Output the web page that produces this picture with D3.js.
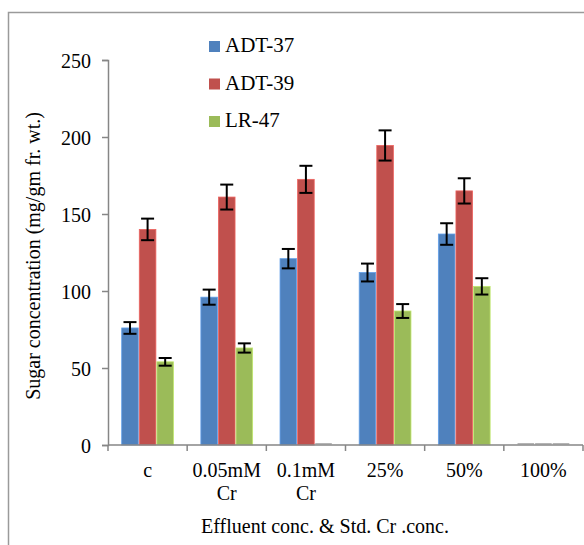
<!DOCTYPE html>
<html>
<head>
<meta charset="utf-8">
<script src="https://cdn.jsdelivr.net/npm/d3@7"></script>
<style>
  body { margin: 0; background: #fff; }
  svg text { font-family: "Liberation Serif", "Times New Roman", serif; fill: #000; }
</style>
</head>
<body>
<svg width="584" height="545"></svg>
<script>
const categories = ['c', '0.05mM Cr', '0.1mM Cr', '25%', '50%', '100%'];
const categoryLines = [['c'], ['0.05mM', 'Cr'], ['0.1mM', 'Cr'], ['25%'], ['50%'], ['100%']];
const seriesNames = ['ADT-37', 'ADT-39', 'LR-47'];
const adt37 = [76, 96, 121, 112, 137, 0];
const adt39 = [140, 161, 172.5, 194.5, 165, 0];
const lr47 = [54, 63, 0, 87, 103, 0];
const err37 = [3.8, 4.9, 6.3, 5.8, 7, 0];
const err39 = [7, 8.1, 8.8, 9.8, 8.2, 0];
const err47 = [2.5, 3, 0, 4.5, 5.3, 0];
const yTicks = [0, 50, 100, 150, 200, 250];

const colors = ['#4F81BD', '#C0504D', '#9BBB59'];
const values = [adt37, adt39, lr47];
const errors = [err37, err39, err47];

const svg = d3.select('svg');
const axisColor = '#868686';

// outer chart frame (runs off right and bottom edges)
svg.append('rect')
  .attr('x', 8.5).attr('y', 12.5)
  .attr('width', 600).attr('height', 600)
  .attr('fill', 'none')
  .attr('stroke', '#9a9a9a')
  .attr('stroke-width', 1.5);

const plot = { left: 108, right: 583, top: 60, bottom: 445 };

const x0 = d3.scaleBand()
  .domain(categories)
  .range([plot.left, plot.right])
  .padding(0);

const x1 = d3.scaleBand()
  .domain(seriesNames)
  .range([0, x0.bandwidth()])
  .paddingInner(0)
  .paddingOuter(0.75);

const y = d3.scaleLinear()
  .domain([0, 250])
  .range([plot.bottom, plot.top]);

const rows = [];
categories.forEach((c, i) => {
  seriesNames.forEach((s, j) => {
    rows.push({ cat: c, series: s, j, value: values[j][i], err: errors[j][i] });
  });
});

// bars (zero values show as a faint grey sliver, like the original)
svg.append('g').selectAll('rect')
  .data(rows)
  .join('rect')
    .attr('x', d => x0(d.cat) + x1(d.series) + 0.5)
    .attr('y', d => d.value === 0 ? y(0) - 2 : y(d.value))
    .attr('width', x1.bandwidth() - 1)
    .attr('height', d => d.value === 0 ? 1.5 : y(0) - y(d.value))
    .attr('fill', d => d.value === 0 ? '#b4b4b4' : colors[d.j])
    .attr('stroke', d => d.value === 0 ? 'none' : d3.color(colors[d.j]).brighter(0.6))
    .attr('stroke-width', 0.8);

// error bars
const eb = svg.append('g')
  .attr('stroke', '#000')
  .attr('stroke-width', 2)
  .selectAll('g')
  .data(rows.filter(d => d.err > 0))
  .join('g')
    .attr('transform', d => `translate(${x0(d.cat) + x1(d.series) + x1.bandwidth() / 2},0)`);

eb.append('line')
  .attr('y1', d => y(d.value + d.err))
  .attr('y2', d => y(d.value - d.err));
eb.append('line')
  .attr('x1', -6.5).attr('x2', 6.5)
  .attr('y1', d => y(d.value + d.err))
  .attr('y2', d => y(d.value + d.err));
eb.append('line')
  .attr('x1', -6.5).attr('x2', 6.5)
  .attr('y1', d => y(d.value - d.err))
  .attr('y2', d => y(d.value - d.err));

// y axis
const yAxis = d3.axisLeft(y)
  .tickValues(yTicks)
  .tickSize(6)
  .tickPadding(11);

const yAxisG = svg.append('g')
  .attr('transform', `translate(${plot.left},0)`)
  .call(yAxis);
yAxisG.select('.domain').attr('stroke', axisColor).attr('stroke-width', 1.5);
yAxisG.selectAll('.tick line').attr('stroke', axisColor).attr('stroke-width', 1.5);
yAxisG.selectAll('.tick text')
  .attr('font-size', 20)
  .attr('dy', '0.35em');

// x axis: ticks on category boundaries
const xAxisG = svg.append('g')
  .attr('transform', `translate(0,${plot.bottom})`);
xAxisG.append('line')
  .attr('x1', plot.left).attr('x2', plot.right)
  .attr('stroke', axisColor).attr('stroke-width', 1.5);
const boundaries = categories.map(c => x0(c)).concat([x0.range()[1]]);
xAxisG.selectAll('.xtick')
  .data(boundaries)
  .join('line')
    .attr('class', 'xtick')
    .attr('x1', d => d).attr('x2', d => d)
    .attr('y1', 0).attr('y2', 6)
    .attr('stroke', axisColor).attr('stroke-width', 1.5);

xAxisG.selectAll('.xlabel')
  .data(categories)
  .join('text')
    .attr('class', 'xlabel')
    .attr('text-anchor', 'middle')
    .attr('font-size', 20)
    .attr('x', d => x0(d) + x0.bandwidth() / 2)
    .attr('y', 32)
    .each(function (d, i) {
      d3.select(this).selectAll('tspan')
        .data(categoryLines[i])
        .join('tspan')
          .attr('x', x0(d) + x0.bandwidth() / 2)
          .attr('dy', (t, k) => k === 0 ? 0 : 23)
          .text(t => t);
    });

// axis titles
svg.append('text')
  .attr('x', 325)
  .attr('y', 533)
  .attr('text-anchor', 'middle')
  .attr('font-size', 20)
  .text('Effluent conc. & Std. Cr .conc.');

svg.append('text')
  .attr('transform', 'translate(40,256) rotate(-90)')
  .attr('text-anchor', 'middle')
  .attr('font-size', 20)
  .text('Sugar concentration (mg/gm fr. wt.)');

// legend
const legend = svg.append('g')
  .selectAll('g')
  .data(seriesNames)
  .join('g')
    .attr('transform', (d, i) => `translate(209,${41 + i * 37.5})`);
legend.append('rect')
  .attr('width', 11).attr('height', 11)
  .attr('fill', (d, i) => colors[i]);
legend.append('text')
  .attr('x', 16)
  .attr('y', 11)
  .attr('font-size', 21)
  .text(d => d);
</script>
</body>
</html>
